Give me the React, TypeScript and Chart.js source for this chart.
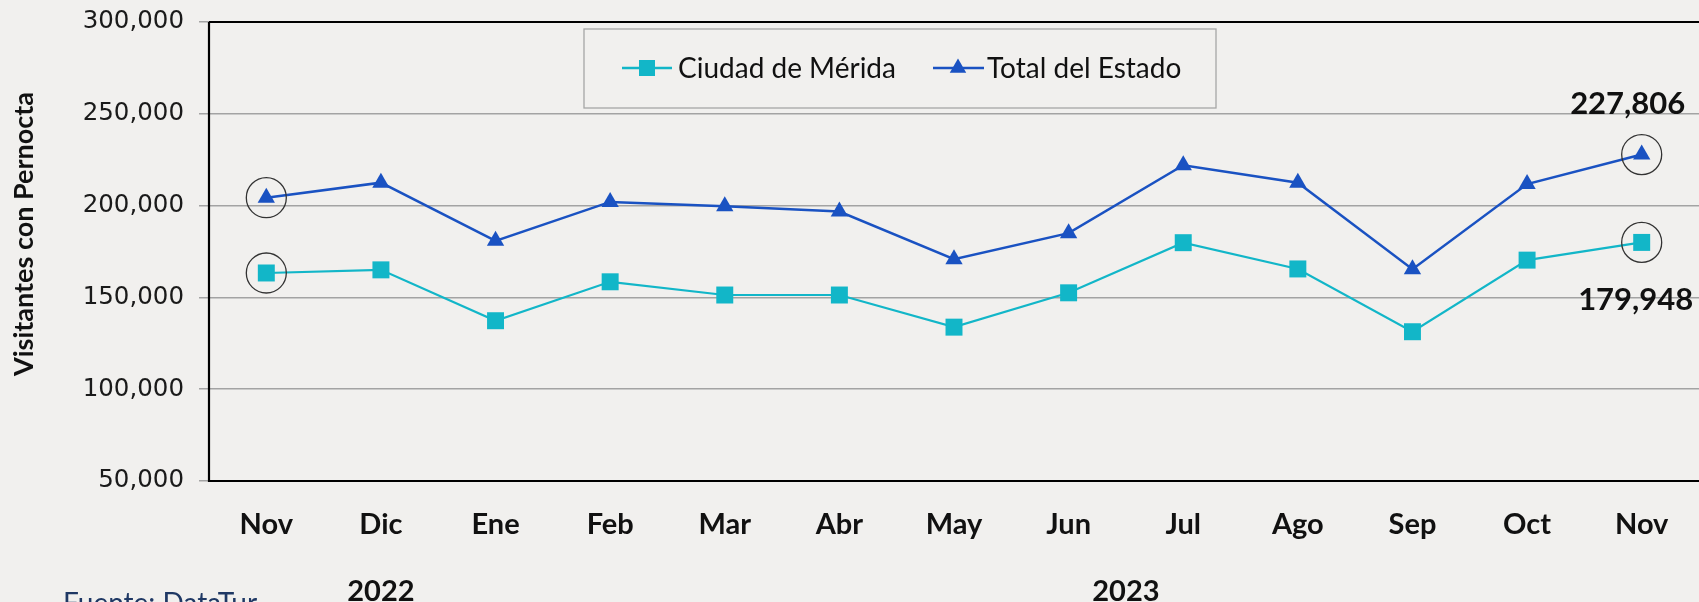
import React, { useEffect, useRef } from "react";
import { Chart, registerables } from "chart.js";

Chart.register(...registerables);

const months = ["Nov", "Dic", "Ene", "Feb", "Mar", "Abr", "May", "Jun", "Jul", "Ago", "Sep", "Oct", "Nov"];
const merida = [163300, 165000, 137300, 158500, 151300, 151300, 133800, 152500, 179800, 165500, 131300, 170300, 179948];
const totalEstado = [204300, 212500, 180800, 202000, 199600, 196800, 170800, 185000, 222000, 212500, 165300, 211700, 227806];
const yTicks = [50000, 100000, 150000, 200000, 250000, 300000];
const seriesNames = ["Ciudad de Mérida", "Total del Estado"];
const yearLabels = ["2022", "2023"];
const yTitle = "Visitantes con Pernocta";
const footer = "Fuente: DataTur";

const CYAN = "#12B6C8";
const BLUE = "#1A52C2";

const fmt = (v: number) => v.toLocaleString("en-US");

const overlay = {
  id: "overlay",
  beforeDraw(chart: any) {
    const { ctx, width, height } = chart;
    ctx.save();
    ctx.fillStyle = "#F1F0EE";
    ctx.fillRect(0, 0, width, height);
    ctx.restore();
  },
  beforeDatasetsDraw(chart: any) {
    const { ctx, chartArea } = chart;
    ctx.save();
    ctx.strokeStyle = "#000";
    ctx.lineWidth = 2.2;
    ctx.beginPath();
    ctx.moveTo(chartArea.left, chartArea.top);
    ctx.lineTo(chartArea.right, chartArea.top);
    ctx.moveTo(chartArea.left, chartArea.top);
    ctx.lineTo(chartArea.left, chartArea.bottom);
    ctx.lineTo(chartArea.right, chartArea.bottom);
    ctx.stroke();
    ctx.restore();
  },
  afterDatasetsDraw(chart: any) {
    const { ctx } = chart;
    const xs = chart.scales.x;
    ctx.save();
    // circles
    ctx.strokeStyle = "#333";
    ctx.lineWidth = 1.3;
    [0, 1].forEach((di) => {
      const meta = chart.getDatasetMeta(di);
      [0, months.length - 1].forEach((pi) => {
        const p = meta.data[pi];
        ctx.beginPath();
        ctx.arc(p.x, p.y, 20, 0, Math.PI * 2);
        ctx.stroke();
      });
    });
    // data labels
    ctx.fillStyle = "#111";
    ctx.font = "bold 31px Lato";
    ctx.textAlign = "center";
    ctx.textBaseline = "middle";
    const last = months.length - 1;
    const pT = chart.getDatasetMeta(1).data[last];
    ctx.fillText(fmt(totalEstado[last]), pT.x - 14, pT.y - 51);
    const pM = chart.getDatasetMeta(0).data[last];
    ctx.fillText(fmt(merida[last]), pM.x - 6, pM.y + 58);

    // year labels
    ctx.font = "bold 29px Lato";
    ctx.textBaseline = "middle";
    ctx.fillText(yearLabels[0], xs.getPixelForValue(1), 592);
    ctx.fillText(yearLabels[1], (xs.getPixelForValue(7) + xs.getPixelForValue(8)) / 2, 592);

    // footer
    ctx.fillStyle = "#1F3864";
    ctx.font = "28px Lato";
    ctx.textAlign = "left";
    ctx.textBaseline = "top";
    ctx.fillText(footer, 63, 590);

    // y title
    ctx.save();
    ctx.translate(24, 234);
    ctx.rotate(-Math.PI / 2);
    ctx.fillStyle = "#111";
    ctx.font = "bold 27px Lato";
    ctx.textAlign = "center";
    ctx.textBaseline = "middle";
    ctx.fillText(yTitle, 0, 0);
    ctx.restore();

    // legend
    ctx.strokeStyle = "#A6A6A6";
    ctx.lineWidth = 1.3;
    ctx.strokeRect(584, 29, 632, 79);
    const ly = 68;
    ctx.strokeStyle = CYAN;
    ctx.lineWidth = 2.5;
    ctx.beginPath();
    ctx.moveTo(622, ly);
    ctx.lineTo(672, ly);
    ctx.stroke();
    ctx.fillStyle = CYAN;
    ctx.fillRect(647 - 8, ly - 8, 16, 16);
    ctx.strokeStyle = BLUE;
    ctx.beginPath();
    ctx.moveTo(933, ly);
    ctx.lineTo(984, ly);
    ctx.stroke();
    ctx.fillStyle = BLUE;
    const r = 9.5;
    ctx.beginPath();
    ctx.moveTo(958, ly - r);
    ctx.lineTo(958 + r * 0.866, ly + r * 0.5);
    ctx.lineTo(958 - r * 0.866, ly + r * 0.5);
    ctx.closePath();
    ctx.fill();
    ctx.fillStyle = "#111";
    ctx.font = "28px Lato";
    ctx.textAlign = "left";
    ctx.textBaseline = "middle";
    ctx.fillText(seriesNames[0], 678, ly + 1);
    ctx.fillText(seriesNames[1], 987, ly + 1);
    ctx.restore();
  },
};

export default function App() {
  const ref = useRef<HTMLCanvasElement>(null);
  useEffect(() => {
    document.body.style.margin = "0";
    const chart = new Chart(ref.current!, {
      type: "line",
      data: {
        labels: months,
        datasets: [
          {
            label: seriesNames[0],
            data: merida,
            borderColor: CYAN,
            backgroundColor: CYAN,
            borderWidth: 2.2,
            pointStyle: "rect",
            pointRadius: 12,
            pointBorderWidth: 0,
            pointBackgroundColor: CYAN,
            tension: 0,
          },
          {
            label: seriesNames[1],
            data: totalEstado,
            borderColor: BLUE,
            backgroundColor: BLUE,
            borderWidth: 2.5,
            pointStyle: "triangle",
            pointRadius: 10,
            pointBorderWidth: 0,
            pointBackgroundColor: BLUE,
            tension: 0,
          },
        ],
      },
      options: {
        responsive: false,
        animation: false,
        events: [],
        layout: { autoPadding: false, padding: { top: 22, left: 0, right: 0, bottom: 0 } },
        plugins: { legend: { display: false }, tooltip: { enabled: false } },
        scales: {
          x: {
            type: "category",
            offset: true,
            grid: { display: false, drawTicks: false },
            border: { display: false },
            ticks: {
              color: "#111",
              font: { family: "Lato", weight: "bold", size: 29 },
              padding: 26,
              maxRotation: 0,
              autoSkip: false,
            },
            afterFit: (s: any) => {
              s.height = 121;
              s.paddingLeft = 0;
              s.paddingRight = 0;
            },
          },
          y: {
            min: yTicks[0],
            max: yTicks[yTicks.length - 1],
            afterBuildTicks: (s: any) => {
              s.ticks = yTicks.map((v) => ({ value: v }));
            },
            grid: { color: "#A3A3A3", lineWidth: 1.5, tickLength: 10, drawTicks: true },
            border: { display: false },
            ticks: {
              color: "#1a1a1a",
              font: { family: "DejaVu Sans", size: 24.5 },
              padding: 15,
              callback: (v: any) => fmt(Number(v)),
            },
            afterFit: (s: any) => {
              s.width = 209;
              s.paddingTop = 0;
              s.paddingBottom = 0;
            },
          },
        },
      },
      plugins: [overlay],
    });
    return () => chart.destroy();
  }, []);
  return (
    <div style={{ position: "absolute", left: 0, top: 0, width: 1699, height: 602 }}>
      <canvas ref={ref} width={1699} height={602} style={{ display: "block" }} />
    </div>
  );
}
